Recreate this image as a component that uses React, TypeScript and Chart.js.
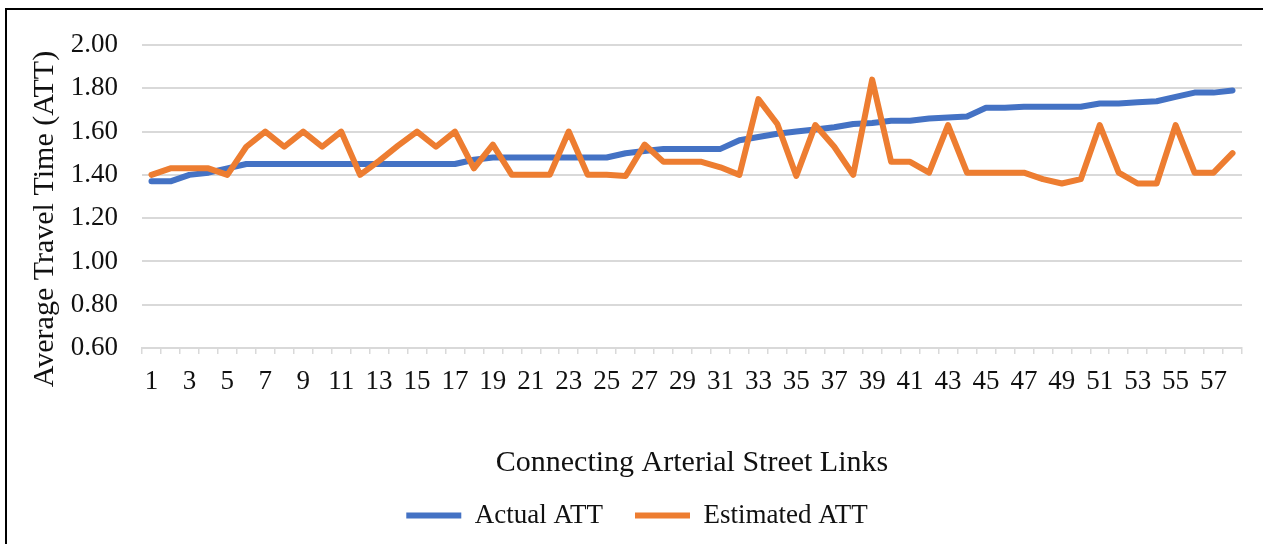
import React, { useEffect, useRef } from 'react';
import { Chart, registerables } from 'chart.js';

Chart.register(...registerables);

const categories = [
  '1', '2', '3', '4', '5', '6', '7', '8', '9', '10',
  '11', '12', '13', '14', '15', '16', '17', '18', '19', '20',
  '21', '22', '23', '24', '25', '26', '27', '28', '29', '30',
  '31', '32', '33', '34', '35', '36', '37', '38', '39', '40',
  '41', '42', '43', '44', '45', '46', '47', '48', '49', '50',
  '51', '52', '53', '54', '55', '56', '57', '58',
];

const actualATT = [
  1.37, 1.37, 1.40, 1.41, 1.43, 1.45, 1.45, 1.45, 1.45, 1.45,
  1.45, 1.45, 1.45, 1.45, 1.45, 1.45, 1.45, 1.47, 1.48, 1.48,
  1.48, 1.48, 1.48, 1.48, 1.48, 1.50, 1.51, 1.52, 1.52, 1.52,
  1.52, 1.56, 1.575, 1.59, 1.60, 1.61, 1.62, 1.635, 1.64, 1.65,
  1.65, 1.66, 1.665, 1.67, 1.71, 1.71, 1.715, 1.715, 1.715, 1.715,
  1.73, 1.73, 1.735, 1.74, 1.76, 1.78, 1.78, 1.79,
];

const estimatedATT = [
  1.40, 1.43, 1.43, 1.43, 1.40, 1.53, 1.60, 1.53, 1.60, 1.53,
  1.60, 1.40, 1.465, 1.535, 1.60, 1.53, 1.60, 1.43, 1.54, 1.40,
  1.40, 1.40, 1.60, 1.40, 1.40, 1.395, 1.54, 1.46, 1.46, 1.46,
  1.435, 1.40, 1.75, 1.635, 1.395, 1.63, 1.53, 1.40, 1.84, 1.46,
  1.46, 1.41, 1.63, 1.41, 1.41, 1.41, 1.41, 1.38, 1.36, 1.38,
  1.63, 1.41, 1.36, 1.36, 1.63, 1.41, 1.41, 1.50,
];

const seriesNames = ['Actual ATT', 'Estimated ATT'];
const seriesColors = ['#4472C4', '#ED7D31'];
const yMin = 0.6;
const yMax = 2.0;
const yStep = 0.2;

const FONT = "'Liberation Serif', 'Times New Roman', serif";
const TEXT = '#111111';
const GRID = '#d9d9d9';

const layoutTweaks = {
  id: 'layoutTweaks',
  afterLayout(chart: any) {
    const lg = chart.legend;
    if (lg) {
      const dx = 637 - (lg.left + lg.right) / 2;
      const dy = 470 - lg.top;
      lg.left += dx;
      lg.right += dx;
      lg.top += dy;
      lg.bottom += dy;
    }
  },
  afterDraw(chart: any) {
    const ctx = chart.ctx;
    ctx.save();
    ctx.translate(45, 219);
    ctx.rotate(-Math.PI / 2);
    ctx.font = `30px ${FONT}`;
    ctx.fillStyle = TEXT;
    ctx.textAlign = 'center';
    ctx.textBaseline = 'middle';
    ctx.fillText('Average Travel Time (ATT)', 0, 0);
    ctx.restore();
  },
};

export default function App() {
  const ref = useRef<HTMLCanvasElement>(null);

  useEffect(() => {
    if (!ref.current) return;
    Chart.defaults.font.family = FONT;
    const chart = new Chart(ref.current, {
      type: 'line',
      data: {
        labels: categories,
        datasets: [
          {
            label: seriesNames[0],
            data: actualATT,
            borderColor: seriesColors[0],
            backgroundColor: seriesColors[0],
            borderWidth: 6,
            pointRadius: 0,
            pointHoverRadius: 0,
            tension: 0,
            fill: false,
            borderCapStyle: 'round',
            borderJoinStyle: 'round',
            order: 1,
          },
          {
            label: seriesNames[1],
            data: estimatedATT,
            borderColor: seriesColors[1],
            backgroundColor: seriesColors[1],
            borderWidth: 6,
            pointRadius: 0,
            pointHoverRadius: 0,
            tension: 0,
            fill: false,
            borderCapStyle: 'round',
            borderJoinStyle: 'round',
            order: 0,
          },
        ],
      },
      options: {
        responsive: false,
        animation: false,
        layout: { padding: { top: 45, right: 21, bottom: 0, left: 0 } },
        plugins: {
          tooltip: { enabled: false },
          title: { display: false },
          legend: {
            display: true,
            position: 'bottom',
            labels: {
              boxWidth: 55,
              boxHeight: 6,
              padding: 32,
              color: TEXT,
              font: { size: 27, family: FONT },
              useBorderRadius: true,
              borderRadius: 3,
              generateLabels: () =>
                seriesNames.map((name, i) => ({
                  text: name,
                  fillStyle: seriesColors[i],
                  strokeStyle: seriesColors[i],
                  lineWidth: 0,
                  hidden: false,
                  datasetIndex: i,
                  fontColor: TEXT,
                })),
            },
          },
        },
        scales: {
          x: {
            type: 'category',
            offset: true,
            grid: {
              display: true,
              drawOnChartArea: false,
              drawTicks: true,
              tickLength: 6,
              offset: true,
              color: GRID,
              lineWidth: 1.5,
            },
            border: { display: true, color: GRID, width: 2 },
            ticks: {
              autoSkip: false,
              maxRotation: 0,
              minRotation: 0,
              padding: 12,
              color: TEXT,
              font: { size: 27, family: FONT },
              callback: (_v: any, i: number) => (i % 2 === 0 ? categories[i] : ''),
            },
            title: {
              display: true,
              text: 'Connecting Arterial Street Links',
              color: TEXT,
              font: { size: 30, family: FONT, lineHeight: 0.8 },
              padding: { top: 0, bottom: 0 },
            },
            afterFit: (s: any) => {
              s.height = 127;
            },
          },
          y: {
            min: yMin,
            max: yMax,
            ticks: {
              stepSize: yStep,
              padding: 24,
              color: TEXT,
              font: { size: 27, family: FONT },
              callback: (v: any) => Number(v).toFixed(2),
            },
            grid: { color: GRID, lineWidth: 2, drawTicks: false },
            border: { display: false },
            afterFit: (s: any) => {
              s.width = 142;
            },
          },
        },
      },
      plugins: [layoutTweaks],
    } as any);
    return () => chart.destroy();
  }, []);

  return (
    <div
      style={{
        position: 'fixed',
        left: 0,
        top: 0,
        width: 1263,
        height: 544,
        overflow: 'hidden',
        background: '#ffffff',
      }}
    >
      <div
        style={{
          position: 'absolute',
          left: 5,
          top: 8,
          width: 1280,
          height: 580,
          border: '2px solid #000',
          boxSizing: 'border-box',
        }}
      />
      <canvas
        ref={ref}
        width={1263}
        height={544}
        style={{ position: 'absolute', left: 0, top: 0, width: 1263, height: 544 }}
      />
    </div>
  );
}
